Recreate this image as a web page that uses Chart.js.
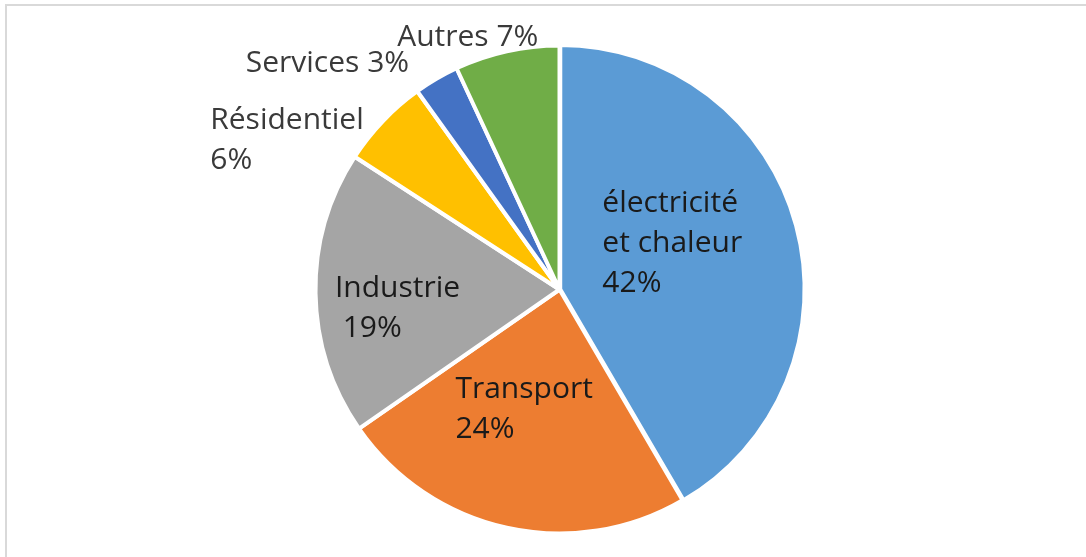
<!DOCTYPE html>
<html>
<head>
<meta charset="utf-8">
<script src="https://cdn.jsdelivr.net/npm/chart.js@4.4.1/dist/chart.umd.min.js"></script>
<style>
  html, body { margin: 0; padding: 0; background: #fff; overflow: hidden; }
  #wrap { position: relative; width: 1086px; height: 557px; }
  #frame { position: absolute; left: 5px; top: 4px; width: 1200px; height: 700px;
           border-top: 2px solid #d9d9d9; border-left: 2px solid #d9d9d9; }
  canvas { position: absolute; left: 0; top: 0; }
</style>
</head>
<body>
<div id="wrap">
  <div id="frame"></div>
  <canvas id="pieChart" width="1086" height="557"></canvas>
</div>
<script>
var categories = ['électricité et chaleur', 'Transport', 'Industrie', 'Résidentiel', 'Services', 'Autres'];
var values = [42, 24, 19, 6, 3, 7];
var colors = ['#5B9BD5', '#ED7D31', '#A5A5A5', '#FFC000', '#4472C4', '#70AD47'];
// how each data label is broken into lines
var labelLines = [
    ['électricité', 'et chaleur', '42%'],
    ['Transport', '24%'],
    ['Industrie', ' 19%'],
    ['Résidentiel', '6%'],
    ['Services 3%'],
    ['Autres 7%']
];
// label placement: fraction of radius along slice middle, plus a nudge
var labelPos = [
    {f: 0.5, dx: -5, dy: -14, inside: true},
    {f: 0.5, dx: -9, dy: 1, inside: true},
    {f: 0.5, dx: -40, dy: 17, inside: true},
    {f: 1.0, dx: -96, dy: 19, inside: false},
    {f: 1.0, dx: -109, dy: -15, inside: false},
    {f: 1.0, dx: -39, dy: -14, inside: false}
];

var labelPlugin = {
    id: 'sliceLabels',
    afterDatasetsDraw: function(chart) {
        var ctx = chart.ctx;
        var arcs = chart.getDatasetMeta(0).data;
        ctx.save();
        ctx.font = '30px "Open Sans"';
        ctx.textBaseline = 'middle';
        ctx.textAlign = 'left';
        for (var i = 0; i < arcs.length; i++) {
            var a = arcs[i];
            var p = labelPos[i];
            var mid = (a.startAngle + a.endAngle) / 2;
            var cx = a.x + Math.cos(mid) * a.outerRadius * p.f + p.dx;
            var cy = a.y + Math.sin(mid) * a.outerRadius * p.f + p.dy;
            var lines = labelLines[i];
            var w = 0;
            lines.forEach(function(l) { w = Math.max(w, ctx.measureText(l).width); });
            var lh = 40;
            var y0 = cy - (lines.length - 1) * lh / 2;
            ctx.fillStyle = p.inside ? '#1a1a1a' : '#3a3a3a';
            for (var j = 0; j < lines.length; j++) {
                ctx.fillText(lines[j], cx - w / 2, y0 + j * lh);
            }
        }
        ctx.restore();
    }
};

new Chart(document.getElementById('pieChart'), {
    type: 'pie',
    data: {
        labels: categories,
        datasets: [{
            data: values,
            backgroundColor: colors,
            borderColor: '#ffffff',
            borderWidth: 4,
            hoverBorderWidth: 4,
            offset: [3, 0, 0, 0, 0, 0],
            hoverOffset: 0
        }]
    },
    options: {
        responsive: false,
        animation: false,
        radius: 244,
        layout: { padding: { left: 33, right: 0, top: 22, bottom: 0 } },
        plugins: {
            legend: { display: false },
            tooltip: { enabled: false }
        }
    },
    plugins: [labelPlugin]
});
</script>
</body>
</html>
